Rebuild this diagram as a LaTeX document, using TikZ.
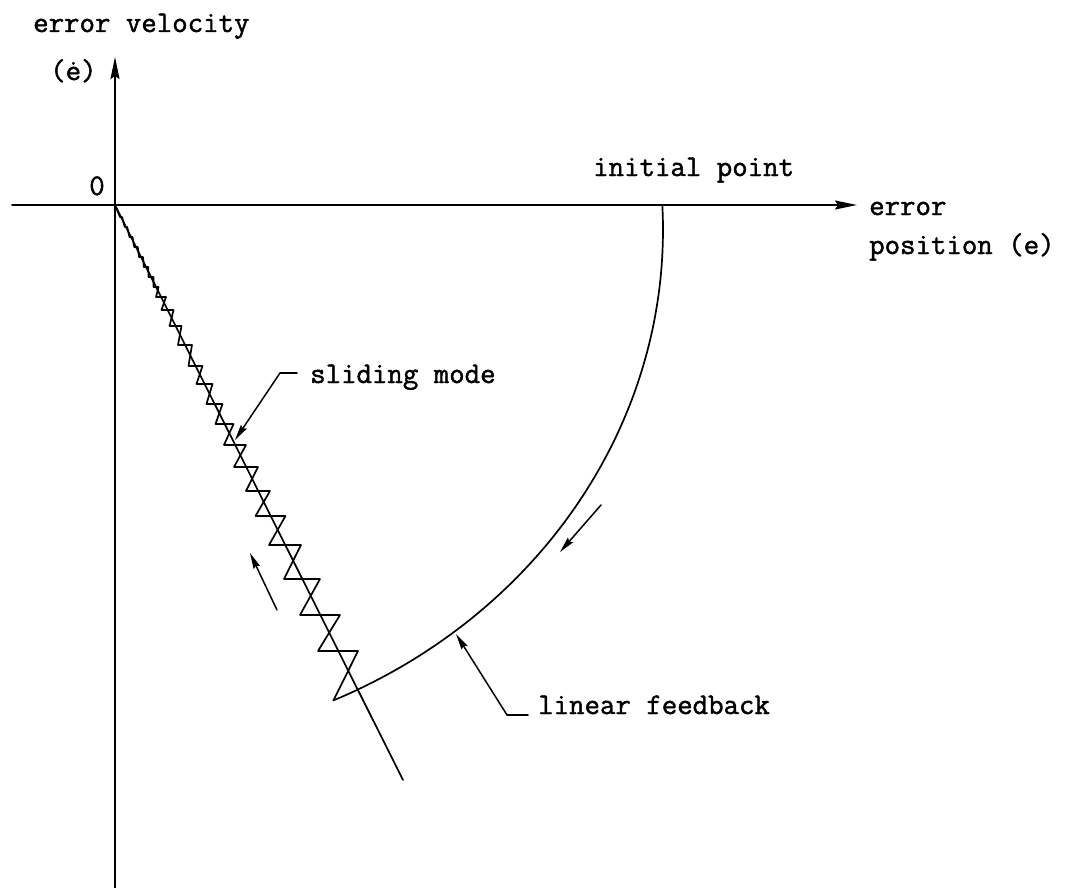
\documentclass[tikz,border=0pt]{standalone}
\usepackage{fontspec}
\setmonofont{Latin Modern Mono}[FakeBold=1.5]
\usetikzlibrary{arrows.meta}
\begin{document}
\begin{tikzpicture}[x=1pt,y=-1pt,line cap=round,line join=round,
  ax/.style={line width=1.9pt},
  axtip/.style={-{Stealth[length=22pt,width=9pt,inset=3pt]}},
  trace/.style={line width=1.7pt},
  leader/.style={line width=1.5pt},
  ltip/.style={-{Stealth[length=16pt,width=7pt,inset=2pt]}},
  lbl/.style={font=\ttfamily\fontsize{30}{36}\selectfont,inner sep=0pt,anchor=base west}]
\useasboundingbox (0,0) rectangle (1066,888);
% axes
\coordinate (O) at (115,205);
\coordinate (ytop) at (115,57);
\coordinate (ybot) at (115,888);
\coordinate (xl) at (12,205);
\coordinate (xr) at (857,205);
\draw[ax,axtip] (ybot) -- (ytop);
\draw[ax,axtip] (xl) -- (xr);
% labels
\node[lbl] (ev) at (33,32) {error velocity};
\node[lbl] (ed) at (50,80) {(ė)};
\node[lbl,anchor=base] (zero) at (97,195) {0};
\node[lbl] (ip) at (593,176) {initial point};
\node[lbl] (er) at (869,215) {error};
\node[lbl] (pos) at (869,254) {position (e)};
% sliding line
\coordinate (S) at (403,780);
\draw[trace] (O) -- (S);
% linear feedback trajectory (elliptic arc from the initial point)
\coordinate (P0) at ({100+563*cos(-2.77)},{230+517*sin(-2.77)});
\coordinate (V) at ({100+563*cos(65.5)},{230+517*sin(65.5)});
\draw[trace] plot[domain=-2.77:65.5,samples=80,smooth] ({100+563*cos(\x)},{230+517*sin(\x)});
% sliding mode zigzag
\draw[trace] (V) \foreach \y/\a in {651/20,615/20,579/18,545/16,516/15,491/12,467/12,445/11,424/9,404/8,384/8,366/7,345/7,326/6,310/6,297/5,287/2.5,277/2.5,267/2.2,257/2,247/1.8,237/1.5,227/1.2,217/1}
  { -- ({115+0.5*(\y-205)+\a},\y) -- ({115+0.5*(\y-205)-\a},\y) } -- (O);
% sliding mode label
\node[lbl] (sm) at (310,383) {sliding mode};
\coordinate (smk2) at (297,373);
\coordinate (smk) at (280,373);
\coordinate (smt) at (235,440);
\draw[leader] (smk2) -- (smk);
\draw[leader,ltip] (smk) -- (smt);
% linear feedback label
\node[lbl] (lf) at (538,714) {linear feedback};
\coordinate (lfk2) at (528,715);
\coordinate (lfk) at (507,715);
\coordinate (lft) at (456,634);
\draw[leader] (lfk2) -- (lfk);
\draw[leader,ltip] (lfk) -- (lft);
% direction arrows
\coordinate (a1t) at (277,610);
\coordinate (a1h) at (250,553);
\draw[leader,ltip] (a1t) -- (a1h);
\coordinate (a2t) at (601,505);
\coordinate (a2h) at (560,552);
\draw[leader,ltip] (a2t) -- (a2h);
\end{tikzpicture}
\end{document}
